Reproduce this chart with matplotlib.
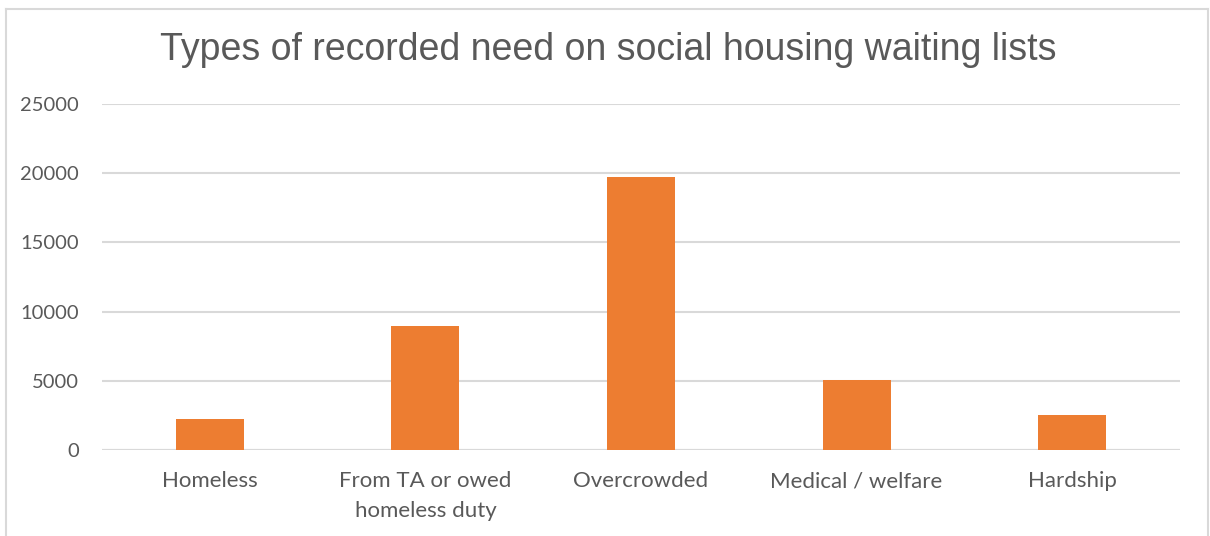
import matplotlib
matplotlib.use("Agg")
import matplotlib.pyplot as plt
import numpy as np

categories = ["Homeless", "From TA or owed\nhomeless duty", "Overcrowded", "Medical / welfare", "Hardship"]
values = [2240, 8970, 19710, 5060, 2520]
yticks = [0, 5000, 10000, 15000, 20000, 25000]
title = "Types of recorded need on social housing waiting lists"

W, H = 1210, 536
fig = plt.figure(figsize=(W / 100, H / 100), dpi=100)
fig.patch.set_facecolor("white")

# outer chart border (open at bottom, as in the cropped reference)
border_col = "#d9d9d9"
fig.add_artist(plt.Line2D([5.5 / W, 5.5 / W], [0, 1 - 8.5 / H], transform=fig.transFigure, color=border_col, lw=1.5))
fig.add_artist(plt.Line2D([5.5 / W, 1208 / W], [1 - 8.5 / H, 1 - 8.5 / H], transform=fig.transFigure, color=border_col, lw=1.5))
fig.add_artist(plt.Line2D([1208 / W, 1208 / W], [0, 1 - 8.5 / H], transform=fig.transFigure, color=border_col, lw=1.5))

left, right = 102 / W, 1180 / W
bottom, top = 1 - 450.3 / H, 1 - 103.7 / H
ax = fig.add_axes([left, bottom, right - left, top - bottom])

x = np.arange(len(categories))
ax.bar(x, values, width=0.315, color="#ed7d31", zorder=3)
ax.set_xlim(-0.5, len(categories) - 0.5)
ax.set_ylim(0, 25000)
ax.set_yticks(yticks)
ax.set_yticklabels([str(v) for v in yticks], fontfamily="Lato", color="#595959")
ax.set_xticks(x)
ax.set_xticklabels(categories, fontfamily="Lato", color="#595959", linespacing=1.6)

for s in ax.spines.values():
    s.set_visible(False)
ax.grid(axis="y", color="#d9d9d9", lw=1.5, zorder=0)
ax.axhline(0, color="#d9d9d9", lw=1.5, zorder=2)
ax.tick_params(axis="both", length=0, colors="#595959")
ax.tick_params(axis="y", pad=16.5, labelsize=14.5)
ax.tick_params(axis="x", pad=15, labelsize=16)

fig.text(608 / W, 1 - 50 / H, title, ha="center", va="center", fontsize=27,
         color="#595959", fontfamily="Liberation Sans")

fig.savefig("out.png", dpi=100, facecolor="white")
